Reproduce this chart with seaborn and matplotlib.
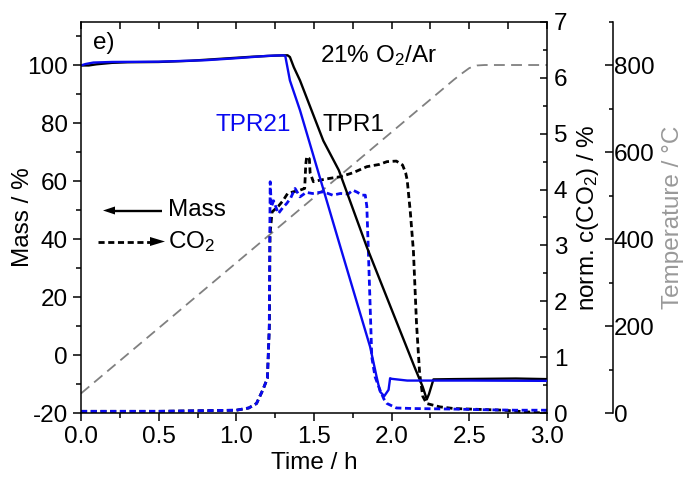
import numpy as np
import pandas as pd
import matplotlib
matplotlib.use("Agg")
import matplotlib.pyplot as plt
import seaborn as sns
from matplotlib.patches import Polygon

# ---------------- data ----------------
t_mass_tpr1 = [0, 0.05, 0.1, 0.2, 0.3, 0.5, 0.7, 0.9, 1.1, 1.25, 1.33, 1.345, 1.37, 1.41,
               1.56, 1.66, 1.84, 2.0, 2.15, 2.20, 2.226, 2.24, 2.269, 2.4, 2.6, 2.8, 3.0]
mass_tpr1 = [100, 100, 100.4, 100.9, 101.1, 101.2, 101.6, 102.3, 103.0, 103.4, 103.5, 102.9, 99.4, 94.8,
             74.0, 63.8, 37.3, 15.7, -4.5, -11.0, -15.3, -13.5, -8.4, -8.3, -8.2, -8.1, -8.3]

t_mass_tpr21 = [0, 0.03, 0.08, 0.2, 0.5, 0.8, 1.0, 1.2, 1.3, 1.315, 1.345, 1.41, 1.67, 1.861,
                1.903, 1.925, 1.952, 1.98, 1.99, 2.0, 2.1, 2.5, 3.0]
mass_tpr21 = [100, 100.5, 101.0, 101.2, 101.3, 101.8, 102.5, 103.3, 103.5, 103.3, 94.8, 84.5, 37.3, 2.9,
              -7.5, -12.6, -14.2, -12.0, -8.0, -8.2, -8.8, -8.8, -8.9]

t_co2_tpr21 = [0, 0.5, 1.0, 1.08, 1.13, 1.17, 1.20, 1.212, 1.215, 1.218, 1.225, 1.24, 1.27, 1.30,
               1.324, 1.35, 1.378, 1.41, 1.45, 1.49, 1.56, 1.62, 1.67, 1.72, 1.75, 1.78, 1.807, 1.83,
               1.84, 1.85, 1.872, 1.893, 1.925, 1.95, 1.97, 2.03, 2.14, 2.4, 2.57, 2.8, 3.0]
co2_tpr21 = [0.03, 0.03, 0.05, 0.09, 0.17, 0.41, 0.62, 1.5, 3.0, 4.14, 3.69, 3.8, 3.57, 3.68,
             3.75, 3.85, 4.02, 3.87, 3.95, 3.93, 3.96, 3.9, 3.93, 3.92, 3.99, 3.95, 3.9, 3.9,
             3.7, 2.9, 1.0, 0.65, 0.41, 0.25, 0.17, 0.09, 0.08, 0.07, 0.06, 0.05, 0.05]

t_co2_tpr1 = [0, 0.5, 1.0, 1.08, 1.13, 1.17, 1.20, 1.213, 1.217, 1.23, 1.27, 1.30, 1.33, 1.367,
              1.41, 1.44, 1.447, 1.453, 1.47, 1.475, 1.496, 1.54, 1.6, 1.67, 1.75, 1.84, 1.92, 1.97,
              2.03, 2.07, 2.09, 2.10, 2.12, 2.14, 2.16, 2.18, 2.20, 2.225, 2.31, 2.4, 2.72, 2.97, 3.0]
co2_tpr1 = [0.03, 0.03, 0.05, 0.09, 0.17, 0.41, 0.62, 1.6, 3.2, 3.6, 3.7, 3.8, 3.93, 3.96,
            3.99, 4.02, 4.45, 4.59, 4.55, 4.3, 4.14, 4.17, 4.2, 4.23, 4.3, 4.41, 4.45, 4.5,
            4.51, 4.44, 4.3, 4.17, 3.6, 2.9, 1.6, 0.71, 0.3, 0.17, 0.11, 0.08, 0.05, 0.0, 0.0]

t_temp = [0, 2.40, 2.45, 2.50, 2.55, 2.60, 3.0]
temp = [45, 767, 781, 794, 800, 801, 801]

x_ticks = [0.0, 0.5, 1.0, 1.5, 2.0, 2.5, 3.0]
mass_ticks = [-20, 0, 20, 40, 60, 80, 100]
co2_ticks = [0, 1, 2, 3, 4, 5, 6, 7]
temp_ticks = [0, 200, 400, 600, 800]

# ---------------- style ----------------
sns.set_style("ticks", {"axes.edgecolor": "black", "text.color": "black",
                        "axes.labelcolor": "black", "xtick.color": "black",
                        "ytick.color": "black"})
plt.rcParams['font.family'] = ['Liberation Sans', 'DejaVu Sans']
plt.rcParams['mathtext.fontset'] = 'custom'
plt.rcParams['mathtext.rm'] = 'Liberation Sans'
plt.rcParams['mathtext.it'] = 'Liberation Sans:italic'
plt.rcParams['mathtext.bf'] = 'Liberation Sans:bold'
plt.rcParams['axes.unicode_minus'] = False
FS = 17.5
BLUE = '#0a0af0'
GRAY = '#808080'

fig = plt.figure(figsize=(6.85, 4.87), dpi=100)
W, H = 685, 487
x0, x1, ytop, ybot = 81, 547, 22, 413
ax = fig.add_axes([x0 / W, 1 - ybot / H, (x1 - x0) / W, (ybot - ytop) / H])
ax2 = ax.twinx()
ax3 = ax.twinx()
ax4 = ax.twiny()

ax3.set_zorder(0)
ax2.set_zorder(1)
ax4.set_zorder(2)
ax.set_zorder(3)
ax.patch.set_visible(False)
ax2.patch.set_visible(False)
ax4.patch.set_visible(False)

# temperature
sns.lineplot(x=t_temp, y=temp, ax=ax3, color=GRAY, lw=1.3, linestyle=(0, (6, 3.5)),
             sort=False, estimator=None)
# CO2
sns.lineplot(x=t_co2_tpr1, y=co2_tpr1, ax=ax2, color='black', lw=2.0, linestyle=(0, (2.2, 1.3)),
             sort=False, estimator=None)
sns.lineplot(x=t_co2_tpr21, y=co2_tpr21, ax=ax2, color=BLUE, lw=2.0, linestyle=(0, (2.2, 1.3)),
             sort=False, estimator=None)
# mass
sns.lineplot(x=t_mass_tpr1, y=mass_tpr1, ax=ax, color='black', lw=1.7, sort=False, estimator=None)
sns.lineplot(x=t_mass_tpr21, y=mass_tpr21, ax=ax, color=BLUE, lw=1.7, sort=False, estimator=None)

# limits
ax.set_xlim(0, 3.0)
ax4.set_xlim(0, 3.0)
ax.set_ylim(-20, 115)
ax2.set_ylim(0, 7)
ax3.set_ylim(0, 900)

# spines
for s in ax.spines.values():
    s.set_linewidth(1.1)
ax.spines['right'].set_visible(False)
ax.spines['top'].set_visible(False)
for s in ['top', 'left', 'bottom']:
    ax2.spines[s].set_visible(False)
    ax3.spines[s].set_visible(False)
for s in ['left', 'bottom', 'right']:
    ax4.spines[s].set_visible(False)
ax4.spines['top'].set_linewidth(1.1)
ax2.spines['right'].set_linewidth(1.1)
ax3.spines['right'].set_position(('axes', (612.5 - x0) / (x1 - x0)))
ax3.spines['right'].set_linewidth(1.1)

# ticks
ax.set_xticks(x_ticks)
ax.set_xticklabels([f"{v:.1f}" for v in x_ticks])
ax.set_xticks(np.arange(0, 3.01, 0.25), minor=True)
ax.set_yticks(mass_ticks)
ax.set_yticklabels([str(v) for v in mass_ticks])
ax.set_yticks(np.arange(-20, 115, 10), minor=True)
ax.tick_params(axis='both', which='major', direction='out', length=6, width=1.1, labelsize=FS)
ax.tick_params(axis='both', which='minor', direction='out', length=3.5, width=1.1)
ax.tick_params(axis='x', which='both', top=False)
ax.tick_params(axis='y', which='both', right=False)

ax4.set_xticks(np.arange(0, 3.01, 0.25))
ax4.tick_params(axis='x', which='both', direction='in', length=5, width=1.1,
                top=True, labeltop=False, bottom=False, labelbottom=False)

ax2.set_yticks(co2_ticks)
ax2.set_yticks(np.arange(0, 7.01, 0.5), minor=True)
ax2.tick_params(axis='y', which='major', direction='in', length=5, width=1.1, labelsize=FS, pad=5)
ax2.tick_params(axis='y', which='minor', direction='in', length=3, width=1.1)

ax3.set_yticks(temp_ticks)
ax3.set_yticks(np.arange(0, 901, 100), minor=True)
ax3.tick_params(axis='y', which='major', direction='in', length=5.5, width=1.1, labelsize=FS, pad=1)
ax3.tick_params(axis='y', which='minor', direction='in', length=3, width=1.1)

# labels
ax.set_xlabel("Time / h", fontsize=FS, labelpad=3)
ax.set_ylabel("Mass / %", fontsize=FS, labelpad=-5)
ax2.set_ylabel("norm. c(CO$_2$) / %", fontsize=FS, labelpad=5)
ax3.set_ylabel("Temperature / °C", fontsize=FS, color='#999999', labelpad=5)

# annotations
def axf(px, py):
    return ((px - x0) / (x1 - x0), (ybot - py) / (ybot - ytop))

ax.text(*axf(93, 43), "e)", transform=ax.transAxes, fontsize=FS, va='center', ha='left')
ax.text(*axf(320, 56), "21% O$_2$/Ar", transform=ax.transAxes, fontsize=FS, va='center', ha='left')
ax.text(*axf(253, 125), "TPR21", transform=ax.transAxes, fontsize=FS, va='center', ha='center', color=BLUE)
ax.text(*axf(353, 125), "TPR1", transform=ax.transAxes, fontsize=FS, va='center', ha='center', color='black')

# legend-like arrows
ya = 210.5
ax.plot([axf(112, ya)[0], axf(162, ya)[0]], [axf(112, ya)[1]] * 2, transform=ax.transAxes,
        color='black', lw=1.7, solid_capstyle='butt')
ax.add_patch(Polygon([axf(103, ya), axf(115, ya - 4), axf(115, ya + 4)], closed=True,
                     transform=ax.transAxes, color='black', lw=0))
yb = 241.5
ax.plot([axf(98, yb)[0], axf(152, yb)[0]], [axf(98, yb)[1]] * 2, transform=ax.transAxes,
        color='black', lw=2.0, linestyle=(0, (2.2, 1.3)))
ax.add_patch(Polygon([axf(165, yb), axf(150, yb - 4.5), axf(150, yb + 4.5)], closed=True,
                     transform=ax.transAxes, color='black', lw=0))
ax.text(*axf(168, ya), "Mass", transform=ax.transAxes, fontsize=FS, va='center', ha='left')
ax.text(*axf(168, yb), "CO$_2$", transform=ax.transAxes, fontsize=FS, va='center', ha='left')

fig.savefig("out.png", dpi=100)
